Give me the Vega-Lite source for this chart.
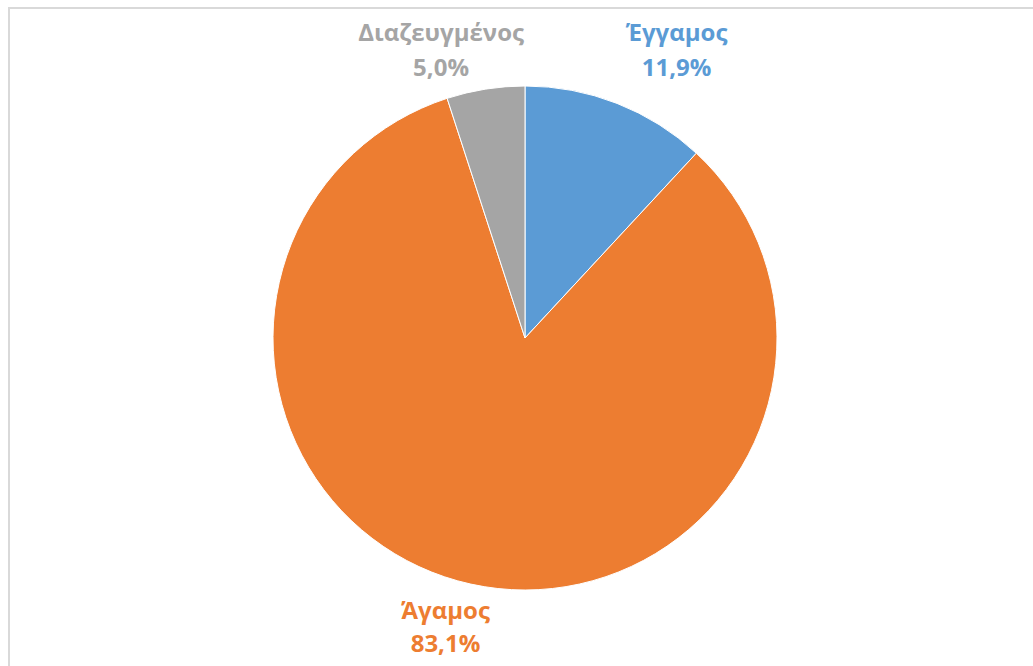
{
  "$schema": "https://vega.github.io/schema/vega-lite/v6.json",
  "width": 1033,
  "height": 666,
  "autosize": {"type": "fit", "contains": "padding"},
  "padding": {"left": 8, "top": 7, "right": -9, "bottom": -3},
  "background": "white",
  "data": {
    "values": [
      {"category": "Έγγαμος", "value": 11.9, "order": 1},
      {"category": "Άγαμος", "value": 83.1, "order": 2},
      {"category": "Διαζευγμένος", "value": 5.0, "order": 3}
    ]
  },
  "transform": [
    {"calculate": "datum.category + '\\n' + replace(format(datum.value, '.1f'), '.', ',') + '%'", "as": "label"}
  ],
  "encoding": {
    "theta": {"field": "value", "type": "quantitative", "stack": true},
    "order": {"field": "order", "type": "quantitative"},
    "color": {
      "field": "category",
      "type": "nominal",
      "scale": {"domain": ["Έγγαμος", "Άγαμος", "Διαζευγμένος"], "range": ["#5B9BD5", "#ED7D31", "#A5A5A5"]},
      "legend": null
    }
  },
  "layer": [
    {
      "data": {"values": [{"frame": 1}]},
      "mark": {"type": "rect", "fill": null, "stroke": "#d9d9d9", "strokeWidth": 2},
      "encoding": {
        "theta": null, "order": null, "color": null,
        "x": {"value": 0}, "x2": {"value": "width"},
        "y": {"value": 0}, "y2": {"value": "height"}
      }
    },
    {"mark": {"type": "arc", "outerRadius": 252, "stroke": "white", "strokeWidth": 1}},
    {
      "mark": {"type": "text", "radius": 300, "dx": 42, "dy": -25, "font": "Open Sans", "fontWeight": "bold", "fontSize": 24, "lineHeight": 35, "lineBreak": "\n", "align": "center", "baseline": "middle"},
      "encoding": {"text": {"condition": {"test": "datum.category === 'Έγγαμος'", "field": "label"}, "value": ""}}
    },
    {
      "mark": {"type": "text", "radius": 300, "dx": -37, "dy": -8, "font": "Open Sans", "fontWeight": "bold", "fontSize": 24, "lineHeight": 35, "lineBreak": "\n", "align": "center", "baseline": "middle"},
      "encoding": {"text": {"condition": {"test": "datum.category === 'Διαζευγμένος'", "field": "label"}, "value": ""}}
    },
    {
      "mark": {"type": "text", "radius": 300, "dx": -15, "dy": -19, "font": "Open Sans", "fontWeight": "bold", "fontSize": 24, "lineHeight": 33, "lineBreak": "\n", "align": "center", "baseline": "middle"},
      "encoding": {"text": {"condition": {"test": "datum.category === 'Άγαμος'", "field": "label"}, "value": ""}}
    }
  ]
}
